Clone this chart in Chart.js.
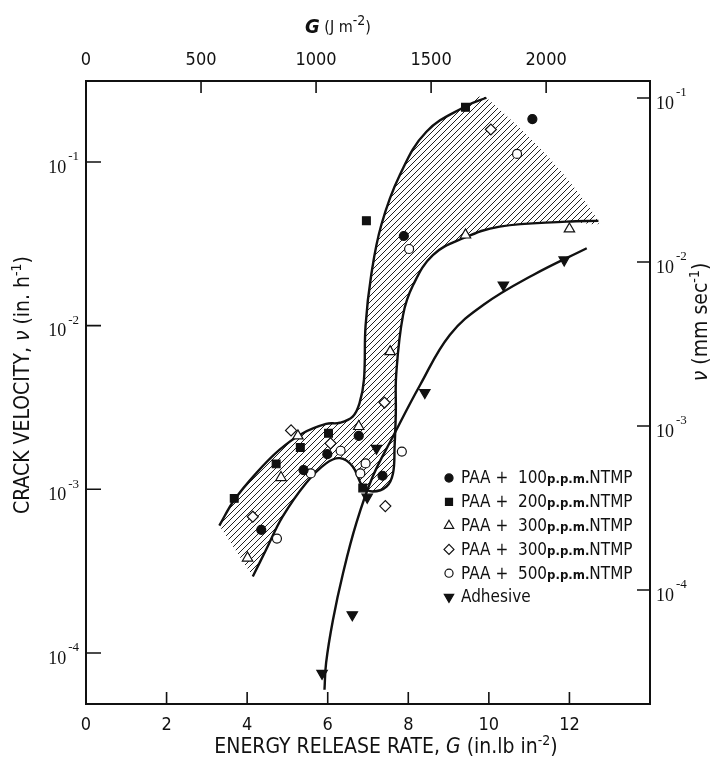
<!DOCTYPE html>
<html>
<head>
<meta charset="utf-8">
<script src="https://cdn.jsdelivr.net/npm/chart.js@4.4.1/dist/chart.umd.min.js"></script>
<style>
  html, body { margin: 0; padding: 0; background: #fff; }
  #wrap { width: 717px; height: 766px; position: relative; }
</style>
</head>
<body>
<div id="wrap"><canvas id="c"></canvas></div>
<script>
// crack velocity v (in. h^-1) against energy release rate G (in.lb in^-2)
const FONT = '"Liberation Sans Narrow", "DejaVu Sans Condensed", "Liberation Sans", sans-serif';
const SERIF = '"Liberation Serif", "DejaVu Serif", serif';
const INK = '#111';
const J_PER_INLB = 175.1;   // 1 in.lb in^-2 in J m^-2

const seriesNames = [
  'PAA + 100 p.p.m. NTMP',
  'PAA + 200 p.p.m. NTMP',
  'PAA + 300 p.p.m. NTMP',
  'PAA + 300 p.p.m. NTMP',
  'PAA + 500 p.p.m. NTMP',
  'Adhesive'
];

// measured points
const ntmp100G = [11.08, 7.89, 6.77, 5.99, 5.40, 7.36, 4.35];
const ntmp100V = [0.183, 0.0353, 0.00212, 0.00164, 0.00131, 0.00121, 0.000565];
const ntmp200G = [9.42, 6.96, 6.02, 5.32, 4.72, 6.87, 3.68];
const ntmp200V = [0.216, 0.0438, 0.0022, 0.0018, 0.00143, 0.00102, 0.00088];
const ntmp300aG = [12.0, 9.42, 7.55, 6.77, 5.26, 4.84, 4.01];
const ntmp300aV = [0.039, 0.0358, 0.00694, 0.00242, 0.00212, 0.00118, 0.00038];
const ntmp300bG = [10.05, 7.41, 5.09, 6.07, 7.43, 4.14];
const ntmp300bV = [0.158, 0.00339, 0.00229, 0.00191, 0.00079, 0.00068];
const ntmp500G = [10.70, 8.02, 6.32, 7.84, 5.58, 6.94, 6.81, 4.74];
const ntmp500V = [0.112, 0.0294, 0.00172, 0.0017, 0.00125, 0.00144, 0.00125, 0.0005];
const adhesiveG = [11.87, 10.36, 8.41, 7.21, 6.98, 6.61, 5.86];
const adhesiveV = [0.0252, 0.0177, 0.0039, 0.00178, 0.000895, 0.000171, 0.000075];

// hand-drawn curves
const bandUpperG = [3.31, 3.68, 4.22, 4.80, 5.38, 5.96, 6.30, 6.62, 6.79, 6.90, 6.94, 7.08, 7.33, 7.79, 8.45, 9.42, 9.94];
const bandUpperV = [0.0006, 0.00086, 0.00125, 0.00174, 0.0022, 0.00251, 0.00255, 0.00278, 0.00336, 0.00468, 0.01, 0.0204, 0.0412, 0.0832, 0.153, 0.219, 0.247];
const bandLowerG = [12.72, 11.93, 10.27, 9.36, 8.61, 8.12, 7.87, 7.70, 7.69, 7.66, 7.62, 7.46, 7.12, 6.87, 6.62, 6.30, 5.96, 5.46, 4.88, 4.47, 4.14];
const bandLowerV = [0.0437, 0.0432, 0.0403, 0.0342, 0.027, 0.0177, 0.0116, 0.00501, 0.00292, 0.00182, 0.00125, 0.00104, 0.00097, 0.00104, 0.00138, 0.00155, 0.00144, 0.00109, 0.00068, 0.000427, 0.000293];
const adhesiveCurveG = [5.92, 5.96, 6.13, 6.38, 6.71, 7.12, 7.62, 8.30, 9.03, 9.86, 11.10, 12.43];
const adhesiveCurveV = [0.0000596, 0.000087, 0.000159, 0.000307, 0.000621, 0.0012, 0.0021, 0.00437, 0.00877, 0.01337, 0.0204, 0.0297];

// axes
const bottomTicks = [0, 2, 4, 6, 8, 10, 12];
const topTicks = [0, 500, 1000, 1500, 2000];
const leftTicks = [1e-1, 1e-2, 1e-3, 1e-4];
const rightTicks = [1e-1, 1e-2, 1e-3, 1e-4];

const pts = (gs, vs) => gs.map((g, i) => ({ x: g, y: vs[i] }));

function hatch() {
  const c = document.createElement('canvas');
  c.width = 6; c.height = 6;
  const g = c.getContext('2d');
  g.strokeStyle = '#222';
  g.lineWidth = 1;
  g.beginPath();
  g.moveTo(0, 6); g.lineTo(6, 0);
  g.moveTo(-1, 1); g.lineTo(1, -1);
  g.moveTo(5, 7); g.lineTo(7, 5);
  g.stroke();
  return g.createPattern(c, 'repeat');
}

function marker(data, style, radius, filled, rotation) {
  return {
    data: data,
    showLine: false,
    pointStyle: style,
    pointRadius: radius,
    pointRotation: rotation || 0,
    pointBackgroundColor: filled ? INK : '#fff',
    pointBorderColor: INK,
    pointBorderWidth: 1.2,
    order: 0
  };
}

function curve(data) {
  return {
    data: data,
    showLine: true,
    borderColor: INK,
    borderWidth: 2.4,
    tension: 0.4,
    pointRadius: 0,
    fill: false,
    order: 1
  };
}

// draws pieces of text [text, font, dy] centred on cx
function drawRuns(ctx, runs, cx, cy) {
  let w = 0;
  runs.forEach(r => { ctx.font = r[1]; w += ctx.measureText(r[0]).width; });
  let x = cx - w / 2;
  ctx.textAlign = 'left';
  ctx.textBaseline = 'middle';
  runs.forEach(r => {
    ctx.font = r[1];
    ctx.fillText(r[0], x, cy + (r[2] || 0));
    x += ctx.measureText(r[0]).width;
  });
}

const frame = {
  id: 'frame',
  beforeDatasetsDraw(chart) {
    const { ctx, chartArea: a, scales } = chart;
    ctx.save();
    ctx.strokeStyle = INK;
    ctx.lineWidth = 2;
    ctx.strokeRect(a.left, a.top, a.right - a.left, a.bottom - a.top);
    ctx.lineWidth = 1.6;
    ctx.beginPath();
    bottomTicks.forEach(v => {
      const x = scales.x.getPixelForValue(v);
      ctx.moveTo(x, a.bottom); ctx.lineTo(x, a.bottom - 12);
    });
    topTicks.forEach(v => {
      const x = scales.xTop.getPixelForValue(v);
      ctx.moveTo(x, a.top); ctx.lineTo(x, a.top + 12);
    });
    leftTicks.forEach(v => {
      const y = scales.y.getPixelForValue(v);
      ctx.moveTo(a.left, y); ctx.lineTo(a.left + 15, y);
    });
    rightTicks.forEach(v => {
      const y = scales.yRight.getPixelForValue(v);
      ctx.moveTo(a.right, y); ctx.lineTo(a.right - 13, y);
    });
    ctx.stroke();

    // powers of ten
    ctx.fillStyle = INK;
    ctx.textBaseline = 'middle';
    const big = '18px ' + SERIF, small = '13px ' + SERIF;
    leftTicks.forEach(v => {
      const y = scales.y.getPixelForValue(v);
      const e = String(Math.round(Math.log10(v)));
      ctx.textAlign = 'right';
      ctx.font = small;
      ctx.fillText(e, a.left - 7, y - 5);
      const ew = ctx.measureText(e).width;
      ctx.font = big;
      ctx.fillText('10', a.left - 9 - ew, y + 6);
    });
    rightTicks.forEach(v => {
      const y = scales.yRight.getPixelForValue(v);
      const e = String(Math.round(Math.log10(v)));
      ctx.textAlign = 'left';
      ctx.font = big;
      ctx.fillText('10', a.right + 6, y + 6);
      const tw = ctx.measureText('10').width;
      ctx.font = small;
      ctx.fillText(e, a.right + 8 + tw, y - 5);
    });
    ctx.restore();
  }
};

const titles = {
  id: 'titles',
  afterDraw(chart) {
    const { ctx } = chart;
    const reg = '21px ' + FONT, ital = 'italic 21px ' + FONT, sup = '14px ' + FONT;
    ctx.save();
    ctx.fillStyle = INK;
    drawRuns(ctx, [['G', 'italic bold 20px ' + FONT], [' (J m', '16px ' + FONT], ['-2', sup, -7], [')', '16px ' + FONT]], 338, 28);
    drawRuns(ctx, [['ENERGY RELEASE RATE, ', reg], ['G', ital], [' (in.lb in', reg], ['-2', sup, -7], [')', reg]], 386, 748);
    ctx.save();
    ctx.translate(24, 385);
    ctx.rotate(-Math.PI / 2);
    drawRuns(ctx, [['CRACK VELOCITY, ', reg], ['\u03BD', ital], [' (in. h', reg], ['-1', sup, -7], [')', reg]], 0, 0);
    ctx.restore();
    ctx.save();
    ctx.translate(702, 322);
    ctx.rotate(-Math.PI / 2);
    drawRuns(ctx, [['\u03BD', ital], [' (mm sec', reg], ['-1', sup, -7], [')', reg]], 0, 0);
    ctx.restore();
    ctx.restore();
  }
};

const legendBox = {
  id: 'legendBox',
  afterDatasetsDraw(chart) {
    const ctx = chart.ctx;
    const x0 = 449, y0 = 478, dy = 23.8;
    seriesNames.forEach((name, i) => {
      const ds = chart.data.datasets[i];
      const y = y0 + i * dy;
      ctx.save();
      ctx.fillStyle = ds.pointBackgroundColor;
      ctx.strokeStyle = ds.pointBorderColor;
      ctx.lineWidth = ds.pointBorderWidth;
      Chart.helpers.drawPoint(ctx, {
        pointStyle: ds.pointStyle, rotation: ds.pointRotation,
        radius: ds.pointRadius * 0.9, borderWidth: ds.pointBorderWidth
      }, x0, y);
      ctx.fillStyle = INK;
      const parts = name.split(' p.p.m. ');
      const runs = parts.length > 1
        ? [[parts[0].replace('+ ', '+  '), '17px ' + FONT], ['p.p.m.', 'bold 13px ' + FONT, 1], [parts[1], '17px ' + FONT]]
        : [[name, '17px ' + FONT]];
      let x = x0 + 12;
      ctx.textAlign = 'left';
      ctx.textBaseline = 'middle';
      runs.forEach(r => {
        ctx.font = r[1];
        ctx.fillText(r[0], x, y + 1 + (r[2] || 0));
        x += ctx.measureText(r[0]).width;
      });
      ctx.restore();
    });
  }
};

new Chart(document.getElementById('c'), {
  type: 'scatter',
  data: {
    datasets: [
      marker(pts(ntmp100G, ntmp100V), 'circle', 4.5, true),
      marker(pts(ntmp200G, ntmp200V), 'rect', 5.5, true),
      marker(pts(ntmp300aG, ntmp300aV), 'triangle', 6, false),
      marker(pts(ntmp300bG, ntmp300bV), 'rectRot', 5.5, false),
      marker(pts(ntmp500G, ntmp500V), 'circle', 4.5, false),
      marker(pts(adhesiveG, adhesiveV), 'triangle', 6, true, 180),
      curve(pts(bandUpperG, bandUpperV)),
      curve(pts(bandLowerG, bandLowerV)),
      curve(pts(adhesiveCurveG, adhesiveCurveV)),
      {
        data: pts(bandUpperG.concat(bandLowerG), bandUpperV.concat(bandLowerV)),
        showLine: true,
        borderWidth: 0,
        borderColor: 'rgba(0,0,0,0)',
        backgroundColor: hatch(),
        fill: 'shape',
        tension: 0.4,
        pointRadius: 0,
        order: 2
      }
    ]
  },
  options: {
    responsive: true,
    maintainAspectRatio: false,
    animation: false,
    layout: { padding: 0 },
    plugins: { legend: { display: false }, tooltip: { enabled: false } },
    scales: {
      x: {
        type: 'linear', position: 'bottom', min: 0, max: 14,
        grid: { display: false }, border: { display: false },
        afterBuildTicks: s => { s.ticks = bottomTicks.map(v => ({ value: v })); },
        afterFit: s => { s.height = 62; },
        ticks: { autoSkip: false, maxRotation: 0, padding: 3, color: INK, font: { family: FONT, size: 18 },
                 callback: v => String(v) }
      },
      xTop: {
        type: 'linear', position: 'top', min: 0, max: 14 * J_PER_INLB,
        grid: { display: false }, border: { display: false },
        afterBuildTicks: s => { s.ticks = topTicks.map(v => ({ value: v })); },
        afterFit: s => { s.height = 81; },
        ticks: { autoSkip: false, maxRotation: 0, padding: 2, color: INK, font: { family: FONT, size: 18 },
                 callback: v => String(v) }
      },
      y: {
        type: 'logarithmic', position: 'left', min: Math.pow(10, -4.312), max: Math.pow(10, -0.505),
        grid: { display: false }, border: { display: false }, ticks: { display: false },
        afterFit: s => { s.width = 86; }
      },
      yRight: {
        type: 'logarithmic', position: 'right', min: Math.pow(10, -4.695), max: Math.pow(10, -0.896),
        grid: { display: false }, border: { display: false }, ticks: { display: false },
        afterFit: s => { s.width = 67; }
      }
    }
  },
  plugins: [frame, legendBox, titles]
});
</script>
</body>
</html>
